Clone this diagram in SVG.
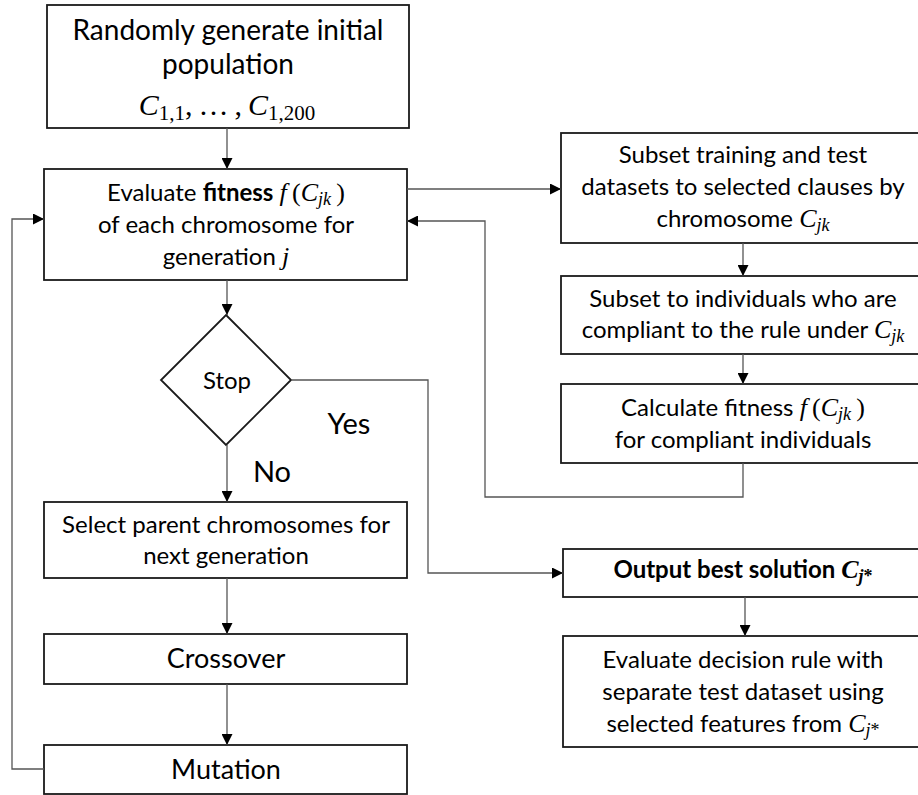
<svg xmlns="http://www.w3.org/2000/svg" width="918" height="795" viewBox="0 0 918 795">
<defs>
<marker id="ah" markerUnits="userSpaceOnUse" markerWidth="11" markerHeight="11" refX="11" refY="5.5" orient="auto">
<path d="M0,0 L11,5.5 L0,11 z" fill="#000"/>
</marker>
<style>
.box{fill:#fff;stroke:#1a1a1a;stroke-width:1.8}
.t{font-family:Lato,"Liberation Sans",sans-serif;fill:#000;text-anchor:middle}
.m{font-family:"Liberation Serif",serif;font-style:italic}
.s{font-family:"Liberation Serif",serif}
.c{fill:none;stroke:#555;stroke-width:1.3;marker-end:url(#ah)}
</style>
</defs>
<rect width="918" height="795" fill="#fff"/>

<g id="init">
<rect class="box" x="47" y="5" width="362" height="123"/>
<text class="t" x="228" y="40" font-size="28">Randomly generate initial</text>
<text class="t" x="228" y="74" font-size="28">population</text>
<text class="t" x="227" y="115" font-size="30"><tspan class="m">C</tspan><tspan class="s" font-size="21" dy="5">1,1</tspan><tspan class="s" dy="-5">,&#8201;…&#8201;,&#8201;</tspan><tspan class="m">C</tspan><tspan class="s" font-size="21" dy="5">1,200</tspan></text>
</g>

<g id="evaluate">
<rect class="box" x="44" y="169" width="363" height="111"/>
<text class="t" x="226" y="201" font-size="24">Evaluate <tspan font-weight="bold">fitness</tspan> <tspan class="m" font-size="26">f&#8201;</tspan><tspan class="s" font-size="26">(</tspan><tspan class="m" font-size="26">C</tspan><tspan class="m" font-size="18" dy="4">jk</tspan><tspan class="s" font-size="26" dy="-4">&#8201;)</tspan></text>
<text class="t" x="226" y="233" font-size="24">of each chromosome for</text>
<text class="t" x="226" y="265" font-size="24">generation <tspan class="m" font-size="26">j</tspan></text>
</g>

<g id="stop">
<polygon class="box" points="226,315 291,380 226,445 161,380"/>
<text class="t" x="227" y="389" font-size="24">Stop</text>
</g>

<g id="select">
<rect class="box" x="44" y="502" width="363" height="76"/>
<text class="t" x="226" y="533" font-size="24">Select parent chromosomes for</text>
<text class="t" x="226" y="564" font-size="24">next generation</text>
</g>

<g id="crossover">
<rect class="box" x="44" y="634" width="363" height="50"/>
<text class="t" x="226" y="668" font-size="27">Crossover</text>
</g>

<g id="mutation">
<rect class="box" x="44" y="745" width="363" height="49"/>
<text class="t" x="226" y="779" font-size="27">Mutation</text>
</g>

<g id="subset">
<rect class="box" x="561" y="133" width="370" height="110"/>
<text class="t" x="743" y="163" font-size="24">Subset training and test</text>
<text class="t" x="743" y="195" font-size="24">datasets to selected clauses by</text>
<text class="t" x="743" y="227" font-size="24">chromosome <tspan class="m" font-size="26">C</tspan><tspan class="m" font-size="18" dy="4">jk</tspan></text>
</g>

<g id="compliant">
<rect class="box" x="561" y="276" width="370" height="78"/>
<text class="t" x="743" y="307" font-size="24">Subset to individuals who are</text>
<text class="t" x="743" y="338" font-size="24">compliant to the rule under <tspan class="m" font-size="26">C</tspan><tspan class="m" font-size="18" dy="4">jk</tspan></text>
</g>

<g id="calcfit">
<rect class="box" x="561" y="384" width="370" height="79"/>
<text class="t" x="743" y="416" font-size="24">Calculate fitness <tspan class="m" font-size="26">f&#8201;</tspan><tspan class="s" font-size="26">(</tspan><tspan class="m" font-size="26">C</tspan><tspan class="m" font-size="18" dy="4">jk</tspan><tspan class="s" font-size="26" dy="-4">&#8201;)</tspan></text>
<text class="t" x="743" y="448" font-size="24">for compliant individuals</text>
</g>

<g id="output">
<rect class="box" x="563" y="549" width="370" height="48"/>
<text class="t" x="743" y="578" font-size="24" font-weight="bold">Output best solution <tspan class="m" font-size="26">C</tspan><tspan class="m" font-size="18" dy="4">j</tspan><tspan class="s" font-size="18">*</tspan></text>
</g>

<g id="final">
<rect class="box" x="563" y="636" width="370" height="111"/>
<text class="t" x="743" y="668" font-size="24">Evaluate decision rule with</text>
<text class="t" x="743" y="700" font-size="24">separate test dataset using</text>
<text class="t" x="743" y="732" font-size="24">selected features from <tspan class="m" font-size="26">C</tspan><tspan class="m" font-size="18" dy="4">j</tspan><tspan class="s" font-size="18">*</tspan></text>
</g>

<g id="labels">
<text class="t" x="349" y="434" font-size="29">Yes</text>
<text class="t" x="272" y="482" font-size="29">No</text>
</g>

<g id="connectors">
<path class="c" d="M227,128 V169"/>
<path class="c" d="M407,189 H561"/>
<path class="c" d="M743,243 V276"/>
<path class="c" d="M743,354 V384"/>
<path class="c" d="M743,463 V497 H485 V221 H407"/>
<path class="c" d="M227,280 V315"/>
<path class="c" d="M291,380 H428 V573 H563"/>
<path class="c" d="M227,445 V502"/>
<path class="c" d="M227,578 V634"/>
<path class="c" d="M227,684 V745"/>
<path class="c" d="M44,769 H12 V219 H44"/>
<path class="c" d="M745,597 V636"/>
</g>
</svg>
